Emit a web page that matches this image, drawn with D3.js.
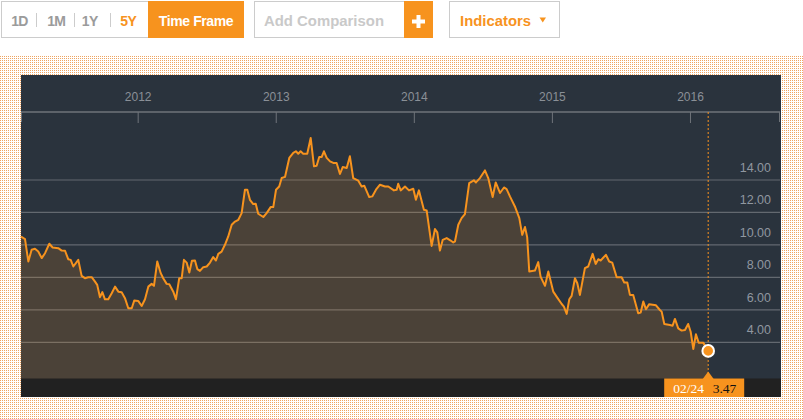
<!DOCTYPE html>
<html><head><meta charset="utf-8">
<script src="https://cdn.jsdelivr.net/npm/d3@7"></script>
<style>html,body{margin:0;padding:0;background:#fff;}svg{display:block;}</style>
</head><body>
<svg id="c" width="803" height="419"></svg>
<script>
// ---- data (decimal year, value) ----
const dates = [2011.155,2011.184,2011.208,2011.232,2011.256,2011.280,2011.305,2011.329,2011.360,2011.384,2011.425,2011.450,2011.474,2011.497,2011.515,2011.534,2011.570,2011.594,2011.618,2011.642,2011.667,2011.691,2011.707,2011.727,2011.744,2011.763,2011.787,2011.812,2011.836,2011.860,2011.884,2011.908,2011.932,2011.957,2011.975,2012.004,2012.029,2012.053,2012.077,2012.101,2012.118,2012.142,2012.167,2012.185,2012.210,2012.229,2012.258,2012.277,2012.301,2012.319,2012.335,2012.355,2012.374,2012.393,2012.415,2012.432,2012.451,2012.475,2012.500,2012.524,2012.547,2012.567,2012.584,2012.608,2012.632,2012.656,2012.681,2012.705,2012.729,2012.753,2012.777,2012.794,2012.813,2012.837,2012.855,2012.873,2012.910,2012.934,2012.963,2012.982,2013.002,2013.025,2013.043,2013.067,2013.098,2013.127,2013.146,2013.163,2013.180,2013.199,2013.228,2013.253,2013.277,2013.296,2013.315,2013.333,2013.349,2013.369,2013.393,2013.417,2013.441,2013.465,2013.485,2013.514,2013.537,2013.561,2013.598,2013.622,2013.641,2013.677,2013.699,2013.726,2013.755,2013.791,2013.815,2013.856,2013.876,2013.887,2013.905,2013.936,2013.965,2013.996,2014.015,2014.037,2014.073,2014.093,2014.129,2014.153,2014.170,2014.189,2014.209,2014.238,2014.267,2014.286,2014.298,2014.322,2014.346,2014.370,2014.401,2014.435,2014.450,2014.479,2014.515,2014.539,2014.571,2014.593,2014.624,2014.653,2014.672,2014.696,2014.732,2014.764,2014.785,2014.805,2014.821,2014.836,2014.877,2014.901,2014.918,2014.950,2014.974,2015.010,2015.039,2015.071,2015.087,2015.107,2015.126,2015.143,2015.167,2015.184,2015.203,2015.239,2015.263,2015.295,2015.317,2015.336,2015.353,2015.391,2015.415,2015.437,2015.469,2015.505,2015.524,2015.546,2015.565,2015.589,2015.625,2015.643,2015.662,2015.681,2015.705,2015.754,2015.782,2015.795,2015.814,2015.855,2015.874,2015.891,2015.915,2015.940,2015.964,2015.987,2016.005,2016.024,2016.043,2016.063,2016.096,2016.132];
const values = [10.52,10.36,8.98,9.70,9.76,9.59,9.19,9.49,10.07,9.84,9.80,9.65,9.64,9.12,9.08,8.67,9.08,8.09,7.95,8.01,8.01,7.74,7.54,6.78,7.09,6.65,6.65,7.02,7.43,7.12,7.09,6.72,6.10,6.10,6.57,6.55,6.24,6.65,7.43,7.60,7.48,8.98,8.26,7.95,7.60,7.58,7.12,6.65,7.95,7.95,9.08,8.91,8.30,9.02,9.04,8.51,8.40,8.63,8.67,8.91,9.25,9.04,9.45,9.59,10.01,10.52,11.24,11.44,11.55,11.96,13.40,13.40,12.78,12.52,12.54,11.92,11.72,11.96,12.33,12.33,13.40,13.60,14.12,14.19,15.36,15.67,15.77,15.62,15.77,15.62,15.62,16.59,14.84,14.88,15.42,15.42,15.77,15.36,15.15,15.05,15.05,14.37,14.80,14.74,15.46,14.12,13.96,13.60,13.65,12.95,12.99,13.40,13.71,13.60,13.60,13.36,13.40,13.77,13.36,13.60,13.36,13.46,12.78,13.36,12.17,12.12,9.94,10.98,10.77,9.65,10.31,10.42,10.27,10.15,10.21,11.24,11.65,11.90,13.81,13.98,13.85,14.12,14.59,14.12,12.95,13.85,13.20,13.54,13.44,12.99,12.37,11.65,10.62,11.10,10.48,8.36,8.42,8.94,8.05,7.48,8.36,7.12,6.75,6.36,6.20,5.75,6.65,6.86,7.95,7.64,6.92,8.57,8.67,9.45,8.83,9.12,9.04,9.39,8.98,8.91,8.01,8.01,7.68,7.68,6.92,6.92,5.79,5.83,6.51,6.04,6.35,6.28,5.99,5.89,5.13,5.07,5.02,5.44,4.86,4.72,4.76,5.13,4.65,3.59,4.49,3.98,3.98,3.47];
const yearTicks = [2012, 2013, 2014, 2015, 2016];
const valueTicks = [4, 6, 8, 10, 12, 14];
const timeframes = ["1D", "1M", "1Y", "5Y"];
const activeTimeframe = "5Y";
const lastDateLabel = "02/24";
const lastValueLabel = "3.47";

// ---- layout ----
const W = 803, H = 419;
const panel = {x0: 21, x1: 781, y0: 75, y1: 397};
const axisY = 112, plotBottom = 378.5;
const ORANGE = "#f7931e";
const svg = d3.select("#c");

const x = d3.scaleLinear().domain([2011.155, 2016.652]).range([21, 780]);
const y = d3.scaleLinear().domain([4, 14]).range([342.3, 180]);

const data = dates.map((t, i) => ({t, v: values[i]}));
const last = data[data.length - 1];

// dotted background
const defs = svg.append("defs");
const pat = defs.append("pattern").attr("id", "dots").attr("width", 2).attr("height", 2)
  .attr("patternUnits", "userSpaceOnUse");
pat.append("rect").attr("width", 2).attr("height", 2).attr("fill", "#fff");
pat.append("rect").attr("width", 1).attr("height", 1).attr("fill", "#efa562");
svg.append("rect").attr("x", 0).attr("y", 55).attr("width", W).attr("height", H - 55).attr("fill", "url(#dots)");

// panel
svg.append("rect").attr("x", panel.x0).attr("y", panel.y0).attr("width", panel.x1 - panel.x0)
  .attr("height", panel.y1 - panel.y0).attr("fill", "#2a333d");
svg.append("rect").attr("x", panel.x0).attr("y", plotBottom).attr("width", panel.x1 - panel.x0)
  .attr("height", panel.y1 - plotBottom).attr("fill", "#212121");

// gridlines
svg.append("g").selectAll("line").data(valueTicks).join("line")
  .attr("x1", panel.x0).attr("x2", 780).attr("y1", d => y(d)).attr("y2", d => y(d))
  .attr("stroke", "#636970").attr("stroke-width", 1.2);

// area + line
svg.append("path").datum(data)
  .attr("d", d3.area().x(d => x(d.t)).y0(plotBottom).y1(d => y(d.v)))
  .attr("fill", ORANGE).attr("fill-opacity", 0.16);
svg.append("path").datum(data)
  .attr("d", d3.line().x(d => x(d.t)).y(d => y(d.v)))
  .attr("fill", "none").attr("stroke", ORANGE).attr("stroke-width", 2)
  .attr("stroke-linejoin", "round");

// right labels
svg.append("g").selectAll("text").data(valueTicks).join("text")
  .attr("x", 771).attr("y", d => y(d) - 8.3).attr("text-anchor", "end")
  .attr("font-family", "Liberation Sans, Arial, sans-serif").attr("font-size", 12.5)
  .attr("fill", "#9097a0").text(d => d3.format(".2f")(d));

// top time axis
const xAxis = svg.append("g").attr("transform", `translate(0,${axisY})`)
  .call(d3.axisBottom(x).tickValues(yearTicks).tickFormat(d3.format("d")).tickSize(11).tickSizeOuter(0));
xAxis.select(".domain").remove();
xAxis.selectAll(".tick line").attr("stroke", "#6f747a");
xAxis.selectAll(".tick text").attr("y", -11).attr("dy", 0)
  .attr("fill", "#8a9097").attr("font-family", "Liberation Sans, Arial, sans-serif").attr("font-size", 12);
svg.append("line").attr("x1", panel.x0).attr("x2", 780).attr("y1", axisY).attr("y2", axisY)
  .attr("stroke", "#6f747a").attr("stroke-width", 1.5);
svg.append("g").selectAll("line").data([panel.x0 + 0.5, 779.5]).join("line")
  .attr("x1", d => d).attr("x2", d => d).attr("y1", axisY).attr("y2", axisY + 10)
  .attr("stroke", "#6f747a");

// cursor
const cx = x(last.t), cy = y(last.v);
svg.append("line").attr("x1", cx).attr("x2", cx).attr("y1", axisY).attr("y2", plotBottom)
  .attr("stroke", ORANGE).attr("stroke-dasharray", "2,2").attr("stroke-width", 1);
svg.append("circle").attr("cx", cx).attr("cy", cy).attr("r", 5.8)
  .attr("fill", ORANGE).attr("stroke", "#fff").attr("stroke-width", 2);

// bottom label
svg.append("rect").attr("x", cx - 44).attr("y", plotBottom).attr("width", 80).attr("height", panel.y1 - plotBottom)
  .attr("fill", ORANGE);
svg.append("path").attr("d", `M${cx - 5.5},${plotBottom + 0.5}L${cx},${plotBottom - 7}L${cx + 5.5},${plotBottom + 0.5}Z`)
  .attr("fill", ORANGE);
svg.append("text").attr("x", cx - 35).attr("y", 392.7).attr("font-family", "Liberation Serif, Times New Roman, serif")
  .attr("font-size", 13.5).attr("fill", "#fff").text(lastDateLabel);
svg.append("text").attr("x", cx + 4.5).attr("y", 392.7).attr("font-family", "Liberation Serif, Times New Roman, serif")
  .attr("font-size", 13.5).attr("fill", "#111").text(lastValueLabel);

// ---- toolbar ----
const tb = svg.append("g").attr("font-family", "Liberation Sans, Arial, sans-serif").attr("font-weight", "bold");
tb.append("rect").attr("x", 1.5).attr("y", 1.5).attr("width", 147).attr("height", 36)
  .attr("fill", "#fff").attr("stroke", "#cccccc");
const tfCenters = [19.5, 56.3, 89.7, 128.3];
tb.selectAll("text.tf").data(timeframes).join("text").attr("class", "tf")
  .attr("x", (d, i) => tfCenters[i]).attr("y", 25.5).attr("text-anchor", "middle")
  .attr("font-size", 14).attr("letter-spacing", -0.6)
  .attr("fill", d => d === activeTimeframe ? ORANGE : "#9b9b9b").text(d => d);
tb.selectAll("line.sep").data([36.5, 74.5, 110.5]).join("line").attr("class", "sep")
  .attr("x1", d => d).attr("x2", d => d).attr("y1", 13).attr("y2", 27).attr("stroke", "#cccccc");
tb.append("rect").attr("x", 148).attr("y", 1).attr("width", 96).attr("height", 37).attr("fill", ORANGE);
tb.append("text").attr("x", 196).attr("y", 25.5).attr("text-anchor", "middle").attr("font-size", 14)
  .attr("letter-spacing", -0.4).attr("fill", "#fff").text("Time Frame");

tb.append("rect").attr("x", 254.5).attr("y", 1.5).attr("width", 151).attr("height", 36)
  .attr("fill", "#fff").attr("stroke", "#cccccc");
tb.append("text").attr("x", 264).attr("y", 26).attr("font-size", 15).attr("fill", "#c9c9c9")
  .attr("textLength", 120).attr("lengthAdjust", "spacingAndGlyphs").text("Add Comparison");
tb.append("rect").attr("x", 404).attr("y", 1).attr("width", 29).attr("height", 37).attr("fill", ORANGE);
tb.append("rect").attr("x", 412).attr("y", 19.5).attr("width", 13).attr("height", 4).attr("fill", "#fff");
tb.append("rect").attr("x", 416.5).attr("y", 15).attr("width", 4).attr("height", 13).attr("fill", "#fff");

tb.append("rect").attr("x", 449.5).attr("y", 1.5).attr("width", 110).attr("height", 36)
  .attr("fill", "#fff").attr("stroke", "#cccccc");
tb.append("text").attr("x", 460).attr("y", 25.5).attr("font-size", 15).attr("fill", ORANGE)
  .attr("textLength", 71).attr("lengthAdjust", "spacingAndGlyphs").text("Indicators");
tb.append("path").attr("d", "M539.5,17.5L546,17.5L542.75,22.5Z").attr("fill", ORANGE);
</script>
</body></html>
